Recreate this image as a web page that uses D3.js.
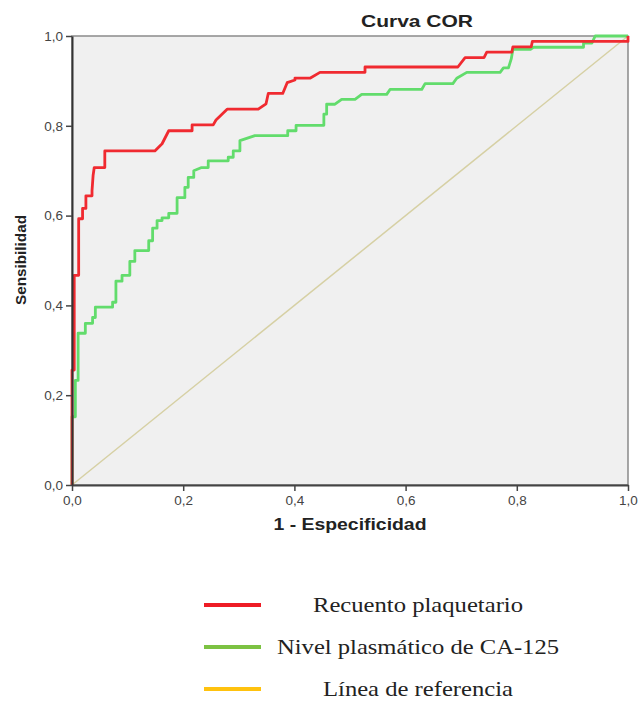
<!DOCTYPE html>
<html>
<head>
<meta charset="utf-8">
<style>
  body { margin: 0; background: #fff; }
  .tick text { font-family: Arial, "Liberation Sans", sans-serif; font-size: 13.5px; fill: #444; }
</style>
<script src="https://cdn.jsdelivr.net/npm/d3@7"></script>
</head>
<body>
<svg width="639" height="701"></svg>
<script>
// ROC points (1 - especificidad, sensibilidad)
var plaqX = [0, 0, 0.004, 0.004, 0.012, 0.012, 0.019, 0.019, 0.025, 0.025, 0.036, 0.036, 0.038, 0.040,
  0.059, 0.059, 0.149, 0.162, 0.174, 0.216, 0.216, 0.254, 0.259, 0.279, 0.335, 0.349, 0.353, 0.379,
  0.387, 0.401, 0.401, 0.428, 0.446, 0.527, 0.527, 0.694, 0.707, 0.741, 0.746, 0.791, 0.793, 0.826,
  0.828, 1, 1];
var plaqY = [0, 0.256, 0.256, 0.467, 0.467, 0.593, 0.593, 0.616, 0.616, 0.644, 0.644, 0.655, 0.69, 0.707,
  0.707, 0.744, 0.744, 0.76, 0.789, 0.789, 0.802, 0.802, 0.813, 0.837, 0.837, 0.849, 0.872, 0.872,
  0.896, 0.902, 0.906, 0.906, 0.919, 0.919, 0.931, 0.931, 0.952, 0.952, 0.964, 0.964, 0.976, 0.976,
  0.988, 0.988, 1];

var caX = [0, 0, 0.006, 0.006, 0.011, 0.011, 0.024, 0.024, 0.037, 0.037, 0.042, 0.042, 0.073, 0.073,
  0.079, 0.079, 0.090, 0.090, 0.104, 0.104, 0.113, 0.113, 0.138, 0.138, 0.145, 0.145, 0.153, 0.153,
  0.162, 0.162, 0.174, 0.174, 0.189, 0.189, 0.203, 0.203, 0.209, 0.209, 0.219, 0.219, 0.233, 0.245,
  0.245, 0.281, 0.281, 0.290, 0.290, 0.302, 0.302, 0.329, 0.388, 0.388, 0.403, 0.403, 0.453, 0.453,
  0.458, 0.458, 0.473, 0.485, 0.509, 0.521, 0.566, 0.572, 0.629, 0.635, 0.685, 0.692, 0.710, 0.770,
  0.776, 0.785, 0.790, 0.793, 0.824, 0.830, 0.920, 0.920, 0.935, 0.941, 1];
var caY = [0, 0.152, 0.152, 0.233, 0.233, 0.338, 0.338, 0.360, 0.360, 0.373, 0.373, 0.396, 0.396, 0.407,
  0.407, 0.454, 0.454, 0.467, 0.467, 0.498, 0.498, 0.522, 0.522, 0.544, 0.544, 0.572, 0.572, 0.589,
  0.589, 0.595, 0.595, 0.605, 0.605, 0.640, 0.640, 0.663, 0.663, 0.685, 0.685, 0.700, 0.707, 0.707,
  0.722, 0.722, 0.730, 0.730, 0.744, 0.744, 0.767, 0.778, 0.778, 0.789, 0.789, 0.801, 0.801, 0.826,
  0.826, 0.848, 0.848, 0.859, 0.859, 0.870, 0.870, 0.881, 0.881, 0.894, 0.894, 0.906, 0.919, 0.919,
  0.929, 0.929, 0.949, 0.970, 0.970, 0.975, 0.975, 0.984, 0.984, 1, 1];

var axisTicks = [0, 0.2, 0.4, 0.6, 0.8, 1];
var legendLabels = ["Recuento plaquetario", "Nivel plasmático de CA-125", "Línea de referencia"];
var legendColors = ["#ee1c25", "#7cc242", "#ffc20e"];
var legendWidths = [210, 282, 190];

var svg = d3.select("svg"),
    margin = {top: 36, left: 72},
    width = 556,
    height = 449,
    g = svg.append("g").attr("transform", "translate(" + margin.left + "," + margin.top + ")");

var x = d3.scaleLinear().domain([0, 1]).range([0, width]);
var y = d3.scaleLinear().domain([0, 1]).range([height, 0]);
var fmt = function(d) { return d3.format(".1f")(d).replace(".", ","); };

// plot area
g.append("rect")
    .attr("width", width).attr("height", height)
    .attr("fill", "#f0f0f0")
    .attr("stroke", "#8a8a8a").attr("stroke-width", 1.5);

// reference diagonal
g.append("line")
    .attr("x1", x(0)).attr("y1", y(0)).attr("x2", x(1)).attr("y2", y(1))
    .attr("stroke", "#d6d0a4").attr("stroke-width", 1.5);

var line = d3.line()
    .x(function(d) { return x(d[0]); })
    .y(function(d) { return y(d[1]); });

g.append("path")
    .datum(d3.zip(caX, caY))
    .attr("d", line)
    .attr("fill", "none")
    .attr("stroke", "#62dc6c").attr("stroke-width", 2.8)
    .attr("stroke-linejoin", "round");

g.append("path")
    .datum(d3.zip(plaqX, plaqY))
    .attr("d", line)
    .attr("fill", "none")
    .attr("stroke", "#f02a30").attr("stroke-width", 2.8)
    .attr("stroke-linejoin", "round");

// axes
var xAxis = g.append("g")
    .attr("transform", "translate(0," + height + ")")
    .call(d3.axisBottom(x).tickValues(axisTicks).tickFormat(fmt).tickSize(6).tickSizeOuter(0).tickPadding(4));
var yAxis = g.append("g")
    .call(d3.axisLeft(y).tickValues(axisTicks).tickFormat(fmt).tickSize(6).tickSizeOuter(0).tickPadding(3));
[xAxis, yAxis].forEach(function(a) {
  a.select(".domain").attr("stroke", "#444").attr("stroke-width", 2);
  a.selectAll(".tick line").attr("stroke", "#444").attr("stroke-width", 1.5);
});
yAxis.select(".domain").attr("stroke", "#333");

// titles
svg.append("text")
    .attr("x", 417).attr("y", 27)
    .attr("text-anchor", "middle")
    .attr("font-family", "Arial, 'Liberation Sans', sans-serif")
    .attr("font-weight", "bold").attr("font-size", 16.5)
    .attr("textLength", 112).attr("lengthAdjust", "spacingAndGlyphs")
    .attr("fill", "#222")
    .text("Curva COR");

svg.append("text")
    .attr("x", 350).attr("y", 530)
    .attr("text-anchor", "middle")
    .attr("font-family", "Arial, 'Liberation Sans', sans-serif")
    .attr("font-weight", "bold").attr("font-size", 16)
    .attr("textLength", 153).attr("lengthAdjust", "spacingAndGlyphs")
    .attr("fill", "#222")
    .text("1 - Especificidad");

svg.append("text")
    .attr("transform", "translate(26,260) rotate(-90)")
    .attr("text-anchor", "middle")
    .attr("font-family", "Arial, 'Liberation Sans', sans-serif")
    .attr("font-weight", "bold").attr("font-size", 14.5)
    .attr("textLength", 90).attr("lengthAdjust", "spacingAndGlyphs")
    .attr("fill", "#222")
    .text("Sensibilidad");

// legend
var legY = d3.scalePoint().domain(legendLabels).range([605, 689]);
var leg = svg.append("g").selectAll("g")
    .data(legendLabels)
    .enter().append("g")
    .attr("transform", function(d) { return "translate(0," + legY(d) + ")"; });
leg.append("line")
    .attr("x1", 204).attr("x2", 261)
    .attr("stroke", function(d, i) { return legendColors[i]; })
    .attr("stroke-width", 4);
leg.append("text")
    .attr("x", 418).attr("y", 7)
    .attr("text-anchor", "middle")
    .attr("font-family", "'Liberation Serif', 'Times New Roman', serif")
    .attr("font-size", 21)
    .attr("textLength", function(d, i) { return legendWidths[i]; })
    .attr("lengthAdjust", "spacingAndGlyphs")
    .attr("fill", "#222")
    .text(function(d) { return d; });
</script>
</body>
</html>
